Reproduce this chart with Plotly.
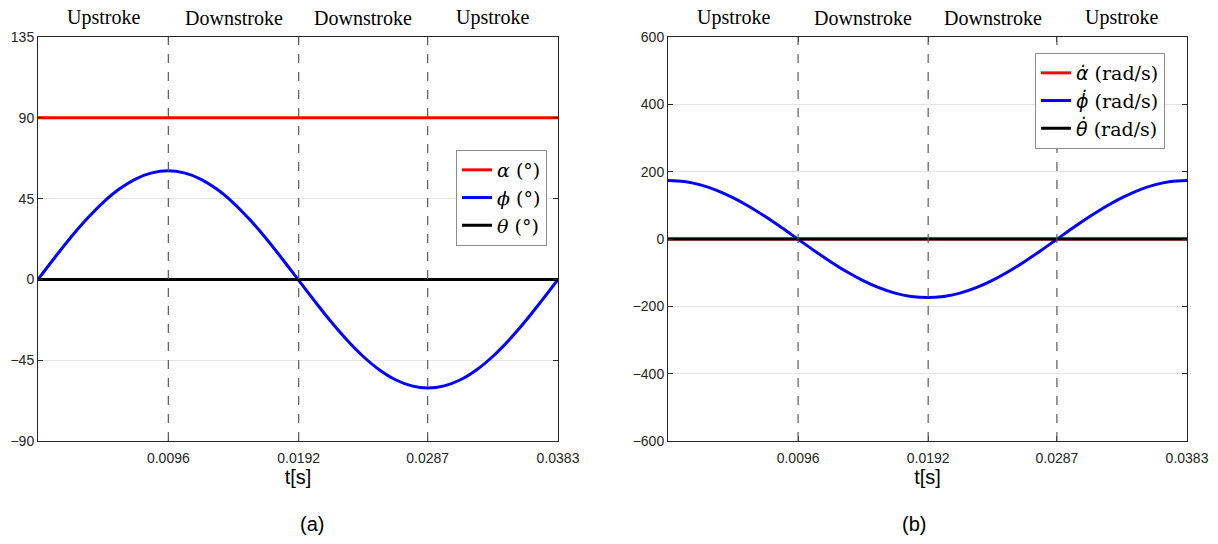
import plotly.graph_objects as go

# ---- data ----
t = [0.0383 * k / 32 for k in range(33)]
alpha_deg = [90] * 33
phi_deg = [0, 11.8, 23.2, 33.6, 42.8, 50.3, 55.9, 59.3, 60.5, 59.3, 55.9, 50.3, 42.8, 33.6, 23.2, 11.8, 0,
           -11.8, -23.2, -33.6, -42.8, -50.3, -55.9, -59.3, -60.5, -59.3, -55.9, -50.3, -42.8, -33.6, -23.2, -11.8, 0]
theta_deg = [0] * 33
alpha_dot = [0] * 33
phi_dot = [174, 170.7, 160.8, 144.7, 123.0, 96.7, 66.6, 33.9, 0, -33.9, -66.6, -96.7, -123.0, -144.7, -160.8, -170.7, -174,
           -170.7, -160.8, -144.7, -123.0, -96.7, -66.6, -33.9, 0, 33.9, 66.6, 96.7, 123.0, 144.7, 160.8, 170.7, 174]
theta_dot = [0] * 33
stroke_bounds = [0.0096, 0.0192, 0.0287]
stroke_labels = ["Upstroke", "Downstroke", "Downstroke", "Upstroke"]
x_ticks = [0.0096, 0.0192, 0.0287, 0.0383]
y_ticks_a = [-90, -45, 0, 45, 90, 135]
y_ticks_b = [-600, -400, -200, 0, 200, 400, 600]
x_max = 0.0383

W, H = 1218, 544
fig = go.Figure()

def add(x, y, color, name, xa, ya, leg):
    fig.add_trace(go.Scatter(x=x, y=y, mode="lines", line=dict(color=color, width=3, shape="spline"),
                             name=name, xaxis=xa, yaxis=ya, legend=leg))

DOT = "<span style=\"font-family:'DejaVu Sans'\"><i>{}</i></span> (rad/s)"
add(t, alpha_deg, "#ff0000", "<i>α</i> (°)", "x", "y", "legend")
add(t, phi_deg, "#0000ff", "<i>ϕ</i> (°)", "x", "y", "legend")
add(t, theta_deg, "#000000", "<i>θ</i> (°)", "x", "y", "legend")
add(t, alpha_dot, "#ff0000", DOT.format("α̇"), "x2", "y2", "legend2")
add(t, phi_dot, "#0000ff", DOT.format("ϕ̇"), "x2", "y2", "legend2")
add(t, theta_dot, "#000000", DOT.format("θ̇"), "x2", "y2", "legend2")

dom_a = [38 / W, 558 / W]
dom_b = [668 / W, 1187 / W]
dom_y = [(H - 441) / H, (H - 37) / H]

tickfont = dict(family="Liberation Sans, Arial", size=14, color="#262626")
xcommon = dict(range=[0, x_max], tickvals=x_ticks, ticktext=[f"{v:.4f}" for v in x_ticks],
               showgrid=False, zeroline=False, showline=True, linecolor="#262626", linewidth=1,
               mirror="ticks", ticks="inside", ticklen=5, tickcolor="#262626", tickfont=tickfont,
               ticklabelstandoff=4, automargin=False,
               title=dict(text="t[s]", font=dict(family="Liberation Sans, Arial", size=20, color="#000"), standoff=2))
ycommon = dict(showgrid=True, gridcolor="#e4e4e4", gridwidth=1, zeroline=False, showline=True,
               linecolor="#262626", linewidth=1, mirror="ticks", ticks="inside", ticklen=5,
               tickcolor="#262626", tickfont=tickfont, automargin=False)

legfont = dict(family="DejaVu Serif", size=19, color="#000")
fig.update_layout(
    width=W, height=H, margin=dict(l=0, r=0, t=0, b=0, autoexpand=False),
    plot_bgcolor="white", paper_bgcolor="white",
    xaxis=dict(domain=dom_a, anchor="y", **xcommon),
    yaxis=dict(domain=dom_y, anchor="x", range=[-90, 135], tickvals=y_ticks_a, **ycommon),
    xaxis2=dict(domain=dom_b, anchor="y2", **xcommon),
    yaxis2=dict(domain=dom_y, anchor="x2", range=[-600, 600], tickvals=y_ticks_b, **ycommon),
    legend=dict(x=547 / W, xanchor="right", y=(H - 150) / H, yanchor="top",
                bgcolor="white", bordercolor="#8c8c8c", borderwidth=1, font=legfont,
                tracegroupgap=0, itemwidth=30),
    legend2=dict(x=1165 / W, xanchor="right", y=(H - 53) / H, yanchor="top",
                 bgcolor="white", bordercolor="#8c8c8c", borderwidth=1, font=legfont,
                 tracegroupgap=0, itemwidth=30),
    showlegend=True,
)

shapes = []
annotations = []
for xa, ya, dom in [("x", "y", dom_a), ("x2", "y2", dom_b)]:
    for b in stroke_bounds:
        shapes.append(dict(type="line", xref=xa, yref=ya + " domain", x0=b, x1=b, y0=0, y1=1,
                           line=dict(color="#5a5a5a", width=1.2, dash="dash"), layer="above"))
    edges = [0] + stroke_bounds + [x_max]
    for i, lab in enumerate(stroke_labels):
        annotations.append(dict(x=(edges[i] + edges[i + 1]) / 2, xref=xa, y=(H - 18) / H, yref="paper",
                                yanchor="middle", text=lab, showarrow=False,
                                font=dict(family="Liberation Serif, Times New Roman", size=20, color="#000")))
annotations.append(dict(x=(dom_a[0] + dom_a[1]) / 2, y=(H - 524) / H, xref="paper", yref="paper",
                        yanchor="middle", text="(a)", showarrow=False,
                        font=dict(family="Liberation Sans, Arial", size=20, color="#000")))
annotations.append(dict(x=(dom_b[0] + dom_b[1]) / 2, y=(H - 524) / H, xref="paper", yref="paper",
                        yanchor="middle", text="(b)", showarrow=False,
                        font=dict(family="Liberation Sans, Arial", size=20, color="#000")))
fig.update_layout(shapes=shapes, annotations=annotations)

fig.write_html("out.html")
